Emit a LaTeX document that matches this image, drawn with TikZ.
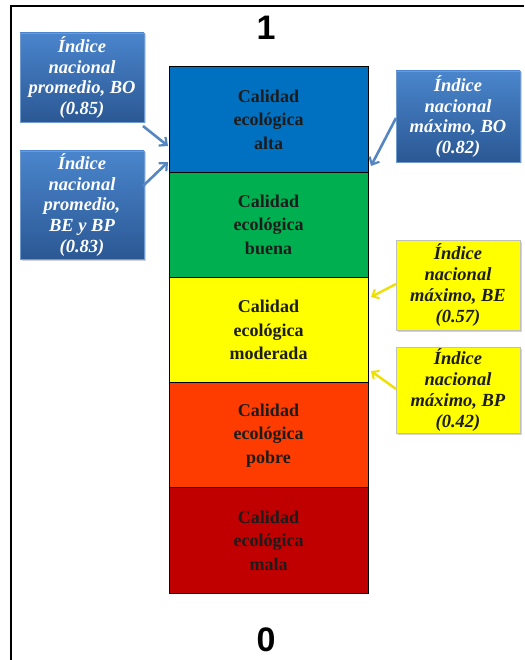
\documentclass[tikz,border=0pt]{standalone}
\usepackage{fontspec}
\setmainfont{Liberation Serif}
\newfontfamily\digitfont{Liberation Sans}
\usetikzlibrary{arrows.meta,shadows}

\definecolor{zblue}{HTML}{0070C0}
\definecolor{zgreen}{HTML}{00B050}
\definecolor{zyellow}{HTML}{FFFF00}
\definecolor{zorange}{HTML}{FF3C00}
\definecolor{zred}{HTML}{C00000}
\definecolor{boxtop}{HTML}{4A85CC}
\definecolor{boxbot}{HTML}{2B5894}
\definecolor{boxedge}{HTML}{6F9AD0}
\definecolor{bluearrow}{HTML}{5686C2}
\definecolor{yellowarrow}{HTML}{EDE000}
\definecolor{darktext}{HTML}{1C1C1C}

\tikzset{
  zone/.style={draw=black, line width=1pt, minimum width=199pt,
    minimum height=105.2pt, inner sep=0pt, align=center, text=darktext,
    font=\bfseries\fontsize{18}{23.5}\selectfont},
  infobox/.style={minimum width=124pt, inner sep=0pt, align=center,
    font=\bfseries\itshape\fontsize{18.5}{20.8}\selectfont,
    drop shadow={shadow xshift=1.5pt, shadow yshift=-1.5pt, opacity=0.35}},
  bluebox/.style={infobox, top color=boxtop, bottom color=boxbot,
    draw=boxedge, line width=0.6pt, text=white},
  yellowbox/.style={infobox, fill=zyellow, draw=black!25, line width=0.6pt,
    text=darktext},
  bluepointer/.style={draw=bluearrow, line width=2.6pt,
    -{Straight Barb[length=6pt,width=11pt,line width=2.2pt]}},
  yellowpointer/.style={draw=yellowarrow, line width=2.4pt,
    -{Straight Barb[length=5.5pt,width=10pt,line width=2pt]}},
  endlabel/.style={font=\digitfont\bfseries\fontsize{34}{34}\selectfont}
}

\begin{document}
\begin{tikzpicture}[x=1pt, y=-1pt]
\useasboundingbox (0,0) rectangle (524,660);

% frame lines along the top and the left side
\draw[line width=2pt] (11,660) -- (11,6) -- (524,6);

% scale ends
\node[endlabel] (one) at (266,28) {1};
\node[endlabel] (zero) at (266,640) {0};

% quality classes, top to bottom
\node[zone, fill=zblue]   (alta)     at (268.5,119.6) {Calidad\\ecológica\\alta};
\node[zone, fill=zgreen]  (buena)    at (268.5,224.8) {Calidad\\ecológica\\buena};
\node[zone, fill=zyellow] (moderada) at (268.5,330.0) {Calidad\\ecológica\\moderada};
\node[zone, fill=zorange] (pobre)    at (268.5,435.2) {Calidad\\ecológica\\pobre};
\node[zone, fill=zred]    (mala)     at (268.5,540.4) {Calidad\\ecológica\\mala};

% national index call-outs
\node[bluebox, minimum height=89pt] (promBO) at (82,77.5)
  {Índice\\nacional\\promedio, BO\\(0.85)};
\node[bluebox, minimum height=108pt] (promBEBP) at (82,205)
  {Índice\\nacional\\promedio,\\BE y BP\\(0.83)};
\node[bluebox, minimum height=91pt] (maxBO) at (458,116.5)
  {Índice\\nacional\\máximo, BO\\(0.82)};
\node[yellowbox, minimum height=90pt] (maxBE) at (458,285)
  {Índice\\nacional\\máximo, BE\\(0.57)};
\node[yellowbox, minimum height=86pt] (maxBP) at (458,390)
  {Índice\\nacional\\máximo, BP\\(0.42)};

% pointer ends on the column
\coordinate (pA) at (168,146);
\coordinate (pB) at (168,162);
\coordinate (pC) at (371,166);
\coordinate (pD) at (371,297);
\coordinate (pE) at (371,371);
\coordinate (sA) at (143,126);
\coordinate (sB) at (143,186);
\coordinate (sC) at (396,118);
\coordinate (sD) at (396,284);
\coordinate (sE) at (396,389);

\draw[bluepointer] (sA) -- (pA);
\draw[bluepointer] (sB) -- (pB);
\draw[bluepointer] (sC) -- (pC);
\draw[yellowpointer] (sD) -- (pD);
\draw[yellowpointer] (sE) -- (pE);
\end{tikzpicture}
\end{document}
